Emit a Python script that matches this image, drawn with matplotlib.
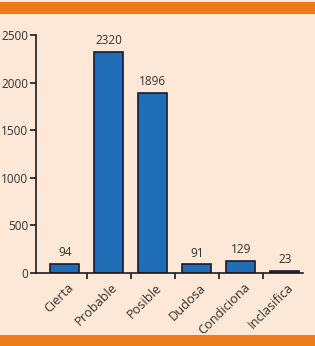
import matplotlib.pyplot as plt
from matplotlib.patches import Rectangle

# datos
categorias = ['Cierta', 'Probable', 'Posible', 'Dudosa', 'Condiciona', 'Inclasifica']
valores = [94, 2320, 1896, 91, 129, 23]
yticks = [0, 500, 1000, 1500, 2000, 2500]

fondo = '#fde7d6'
naranja = '#ee7a1a'
azul = '#1f6db7'
texto = '#333333'

plt.rcParams['font.family'] = ['Open Sans', 'DejaVu Sans']

fig = plt.figure(figsize=(3.15, 3.46), dpi=100)
fig.patch.set_facecolor(fondo)

# bandas naranjas arriba y abajo
fig.patches.append(Rectangle((0, 1 - 14 / 346), 1, 12 / 346, transform=fig.transFigure,
                             facecolor=naranja, edgecolor='none'))
fig.patches.append(Rectangle((0, 0), 1, 11 / 346, transform=fig.transFigure,
                             facecolor=naranja, edgecolor='none'))

ax = fig.add_axes([36 / 315, 1 - 273 / 346, 267 / 315, 238 / 346])
ax.set_facecolor(fondo)

x = range(len(categorias))
ax.bar(x, valores, width=0.66, color=azul, edgecolor='#1a1a2e', linewidth=1.2)

for xi, v in zip(x, valores):
    ax.text(xi, v + 50, str(v), ha='center', va='bottom', fontsize=8.5, color=texto)

ax.set_xlim(-0.65, 5.41)
ax.set_ylim(0, 2500)
ax.set_yticks(yticks)
ax.set_yticklabels([str(t) for t in yticks], fontsize=8.5, color=texto)

ax.set_xticks([i + 0.5 for i in range(len(categorias) - 1)])
ax.set_xticklabels([])
for xi, c in zip(x, categorias):
    ax.text(xi + 0.05, -85, c, rotation=45, ha='right', va='top',
            fontsize=9.2, color=texto, rotation_mode='anchor')

for lado in ['top', 'right']:
    ax.spines[lado].set_visible(False)
for lado in ['left', 'bottom']:
    ax.spines[lado].set_linewidth(1.2)
    ax.spines[lado].set_color('#1a1a1a')
ax.tick_params(axis='both', direction='out', length=4, width=1.2, color='#1a1a1a', pad=1.5)

fig.savefig('out.png', dpi=100, facecolor=fondo)
